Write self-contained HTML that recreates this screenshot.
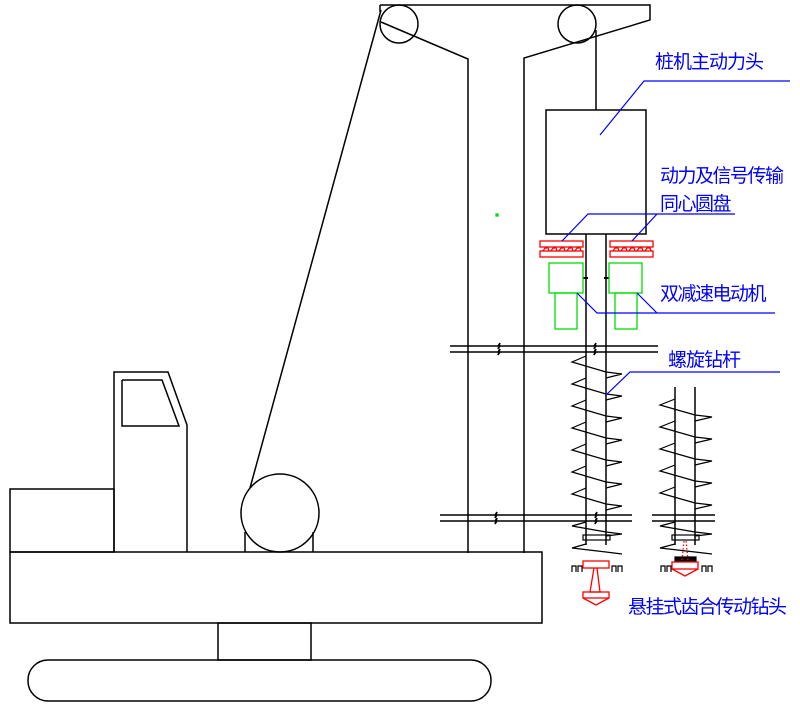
<!DOCTYPE html>
<html><head><meta charset="utf-8"><style>
html,body{margin:0;padding:0;background:#fff}
svg{display:block}
text{font-family:"Liberation Sans","Noto Sans CJK SC","WenQuanYi Zen Hei",sans-serif;fill:#0000ff;font-size:19px}
</style></head><body>
<svg width="800" height="709" viewBox="0 0 800 709" xmlns="http://www.w3.org/2000/svg">
<g fill="none" stroke="#000" stroke-width="1.5">
<!-- top frame -->
<polyline points="380,5 650,5 650,20 524,58 524,553"/>
<polyline points="381,22 468,59 468,553"/>
<line x1="380" y1="5" x2="380" y2="12"/>
<circle cx="399" cy="24" r="19"/>
<circle cx="577" cy="24" r="19"/>
<line x1="596" y1="30" x2="596" y2="110"/>
<line x1="381" y1="10" x2="250" y2="488"/>
<!-- box -->
<rect x="546" y="110" width="100" height="124"/>
<line x1="586" y1="234" x2="586" y2="545"/>
<line x1="606" y1="234" x2="606" y2="545"/>
<line x1="583" y1="278" x2="588" y2="278" stroke-width="2"/>
<line x1="604" y1="278" x2="609" y2="278" stroke-width="2"/>
<!-- horizontal double lines -->
<path d="M450,346 H498 l2,-3 l-2,6 l2,-3 H594 l2,-3 l-2,6 l2,-3 H658"/>
<path d="M450,352 H498 l2,-3 l-2,6 l2,-3 H594 l2,-3 l-2,6 l2,-3 H658"/>
<path d="M440,515 H495 l2,-3 l-2,6 l2,-3 H595 l2,-3 l-2,6 l2,-3 H632"/>
<path d="M440,521 H495 l2,-3 l-2,6 l2,-3 H595 l2,-3 l-2,6 l2,-3 H632"/>
<line x1="652" y1="515" x2="715" y2="515"/>
<line x1="652" y1="521" x2="715" y2="521"/>
<!-- right auger shafts -->
<line x1="675" y1="387" x2="675" y2="545"/>
<line x1="695" y1="387" x2="695" y2="545"/>
<!-- crane -->
<rect x="10" y="552" width="532" height="71"/>
<rect x="10" y="489" width="104" height="63"/>
<polyline points="114,552 114,372 168,372 187,425 187,552"/>
<polyline points="122,380 162,380 179,426 122,426 122,380"/>
<circle cx="280" cy="513" r="39"/>
<line x1="245" y1="532" x2="245" y2="552"/>
<line x1="313" y1="532" x2="313" y2="552"/>
<rect x="218" y="623" width="93" height="37"/>
<rect x="28" y="660" width="463" height="41" rx="20" ry="20"/>
</g>
<!-- spirals -->
<g fill="none" stroke="#000" stroke-width="1.2" id="sp">
<path d="M586,356 L572,362 L606,372 L622,374 L606,378 M586,378 L572,384 L606,394 L622,396 L606,400 M586,400 L572,406 L606,416 L622,418 L606,422 M586,422 L572,428 L606,438 L622,440 L606,444 M586,444 L572,450 L606,460 L622,462 L606,466 M586,466 L572,472 L606,482 L622,484 L606,488 M586,488 L572,494 L606,504 L622,506 L606,510 M586,522 L572,526 L606,532 L622,534 L606,536 M586,544 L572,548 L606,552 L622,554"/>
<path d="M675,399 L660,405 L695,415 L712,417 L695,421 M675,421 L660,427 L695,437 L712,439 L695,443 M675,443 L660,449 L695,459 L712,461 L695,465 M675,465 L660,471 L695,481 L712,483 L695,487 M675,487 L660,493 L695,503 L712,505 L695,509 M675,522 L660,526 L695,532 L712,534 L695,536 M675,544 L660,548 L695,552 L712,554"/>
<rect x="583" y="535" width="27" height="5"/>
<rect x="672" y="535" width="27" height="5"/>
<path d="M572,572 v-6 h4 v6 M578,572 v-6 h4 v6 M612,572 v-6 h4 v6 M618,572 v-6 h4 v6"/>
<path d="M661,572 v-6 h4 v6 M667,572 v-6 h4 v6 M702,572 v-6 h4 v6 M708,572 v-6 h4 v6"/>
<rect x="675" y="557" width="21" height="4" fill="#000"/>
</g>
<!-- red -->
<g fill="none" stroke="#f00" stroke-width="1.3">
<rect x="540" y="241" width="43" height="6"/><rect x="540" y="251" width="43" height="6"/>
<path d="M543,251 l2,-3 h3 l1,3 M551,251 l2,-3 h3 l1,3 M559,251 l2,-3 h3 l1,3 M567,251 l2,-3 h3 l1,3 M575,251 l2,-3 h3 l1,3"/>
<rect x="610" y="241" width="43" height="6"/><rect x="610" y="251" width="43" height="6"/>
<path d="M613,251 l2,-3 h3 l1,3 M621,251 l2,-3 h3 l1,3 M629,251 l2,-3 h3 l1,3 M637,251 l2,-3 h3 l1,3 M645,251 l2,-3 h3 l1,3"/>
<rect x="583" y="561" width="26" height="7"/>
<polyline points="594,568 590,592 600,592 597,568"/>
<rect x="583" y="592" width="26" height="6"/>
<polyline points="583,598 596,605 609,598"/>
<rect x="672" y="562" width="26" height="7"/>
<polyline points="672,569 685,576 698,569"/>
<path d="M682,560 L684,541 M688,560 L686,541" stroke-dasharray="1.5,2"/>
</g>
<!-- green -->
<g fill="none" stroke="#00dd00" stroke-width="1.3">
<rect x="549" y="263" width="34" height="30"/><rect x="555" y="293" width="22" height="36"/>
<rect x="609" y="263" width="33" height="30"/><rect x="615" y="293" width="22" height="36"/>
<rect x="496" y="214" width="2" height="2" fill="#00dd00"/>
</g>
<!-- leaders -->
<g fill="none" stroke="#0000ff" stroke-width="1.2">
<polyline points="600,135 644,81 790,81"/>
<polyline points="562,241 588,214 735,214"/>
<line x1="632" y1="241" x2="657" y2="214"/>
<polyline points="577,293 597,313 775,313"/>
<line x1="637" y1="293" x2="657" y2="313"/>
<polyline points="606,395 630,372 780,372"/>
</g>
<text x="655" y="68" letter-spacing="-1">桩机主动力头</text>
<text x="660" y="182" letter-spacing="-1.5">动力及信号传输</text>
<text x="660" y="210" letter-spacing="-1.5">同心圆盘</text>
<text x="660" y="300" letter-spacing="-1.5">双减速电动机</text>
<text x="668" y="366" letter-spacing="-1">螺旋钻杆</text>
<text x="628" y="613" letter-spacing="-1.5">悬挂式齿合传动钻头</text>
</svg>
</body></html>
